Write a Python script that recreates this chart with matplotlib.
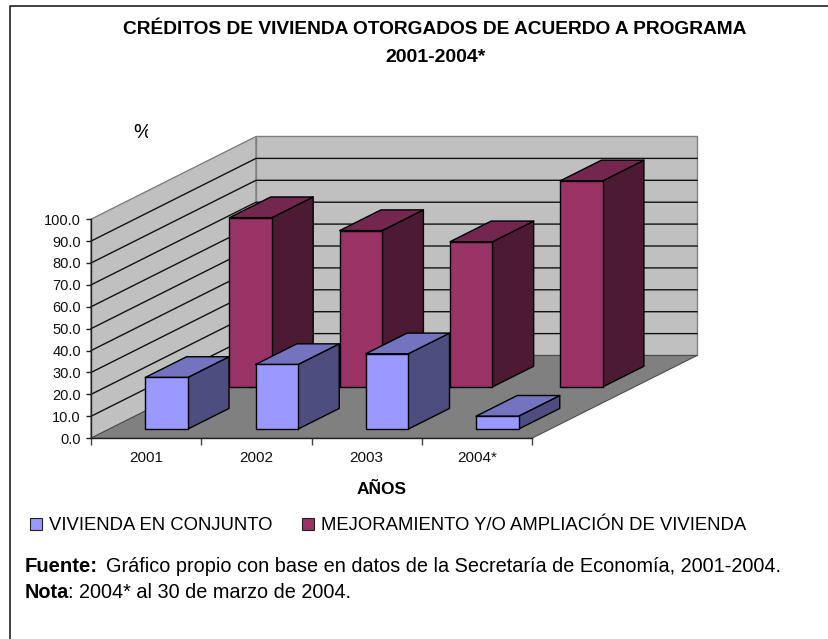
import matplotlib
matplotlib.use("Agg")
import matplotlib.pyplot as plt
from matplotlib.patches import Polygon, Rectangle
from matplotlib.lines import Line2D

plt.rcParams['font.family'] = ['Liberation Sans', 'DejaVu Sans']

years = ['2001', '2002', '2003', '2004*']
vivienda = [23.6, 29.5, 34.4, 5.9]
mejoramiento = [77.3, 71.4, 66.3, 94.1]
y_ticks = [0, 10, 20, 30, 40, 50, 60, 70, 80, 90, 100]
series_names = ['VIVIENDA EN CONJUNTO', 'MEJORAMIENTO Y/O AMPLIACIÓN DE VIVIENDA']

W, H = 829, 639
fig = plt.figure(figsize=(W / 100, H / 100), dpi=100)
fx = lambda p: p / W
fy = lambda p: 1 - p / H

# plot rectangle of the front plane
L, R, T, B = 91, 532, 219.2, 438.2
ax = fig.add_axes([fx(L), fy(B), (R - L) / W, (B - T) / H])
ax.set_xlim(0, 4)
ax.set_ylim(0, 100)
ax.patch.set_visible(False)

# oblique depth projection: depth 1 = whole floor depth
DX = 165 / ((R - L) / 4)
DY = 82.7 / ((B - T) / 100)
P = lambda c, v, d: (c + DX * d, v + DY * d)

def poly(pts, fc, ec='black', lw=1.0, z=1):
    ax.add_patch(Polygon([P(*p) for p in pts], closed=True, facecolor=fc,
                         edgecolor=ec, linewidth=lw, clip_on=False, zorder=z,
                         joinstyle='round'))

# walls and floor
poly([(0, 0, 0), (0, 100, 0), (0, 100, 1), (0, 0, 1)], '#C0C0C0', '#808080', 1.0, 1)
poly([(0, 0, 1), (0, 100, 1), (4, 100, 1), (4, 0, 1)], '#C0C0C0', '#808080', 1.0, 1)
for t in y_ticks[1:-1]:
    ax.plot(*zip(P(0, t, 0), P(0, t, 1), P(4, t, 1)), color='#111111', lw=1.0,
            clip_on=False, zorder=1.5)
poly([(0, 0, 0), (4, 0, 0), (4, 0, 1), (0, 0, 1)], '#808080', '#4d4d4d', 0.8, 2)

# bars
BAR_OFF, BAR_W, BAR_D = 0.328, 0.385, 0.25

def bar3d(c, v, d0, front, top, side, z):
    x0, x1 = c + BAR_OFF, c + BAR_OFF + BAR_W
    d1 = d0 + BAR_D
    poly([(x1, 0, d0), (x1, 0, d1), (x1, v, d1), (x1, v, d0)], side, z=z)
    poly([(x0, v, d0), (x1, v, d0), (x1, v, d1), (x0, v, d1)], top, z=z)
    poly([(x0, 0, d0), (x1, 0, d0), (x1, v, d0), (x0, v, d0)], front, z=z)

for i, v in enumerate(mejoramiento):
    bar3d(i, v, 0.62, '#993366', '#73274F', '#4C1A33', 3 + i * 0.1)
for i, v in enumerate(vivienda):
    bar3d(i, v, 0.11, '#9999FF', '#7373BF', '#4D4D80', 4 + i * 0.1)

# axes
for s in ('top', 'right'):
    ax.spines[s].set_visible(False)
for s in ('left', 'bottom'):
    ax.spines[s].set_linewidth(1.0)
    ax.spines[s].set_color('#222222')
    ax.spines[s].set_zorder(6)
ax.set_yticks(y_ticks)
ax.set_yticklabels([f'{t:.1f}' for t in y_ticks], fontsize=10.5, color='#111111')
ax.tick_params(axis='y', length=3.8, width=1, pad=3.5, color='#222222')
ax.set_xticks(range(5))
ax.set_xticklabels([])
ax.set_xticks([i + 0.5 for i in range(4)], minor=True)
ax.set_xticklabels(years, minor=True, fontsize=11, color='#111111')
ax.tick_params(axis='x', which='major', length=5, width=1, color='#444444')
ax.tick_params(axis='x', which='minor', length=0, pad=9)

# texts
fig.text(fx(434.5), fy(30), 'CRÉDITOS DE VIVIENDA OTORGADOS DE ACUERDO A PROGRAMA',
         ha='center', va='center', fontsize=13.75, fontweight='bold')
fig.text(fx(435.5), fy(58), '2001-2004*', ha='center', va='center',
         fontsize=14, fontweight='bold')
pct = fig.text(fx(133), fy(133), '%', ha='left', va='center', fontsize=14.5)
pct.set_clip_path(Rectangle((133, H - 150), 14.5, 40, transform=None))
fig.text(fx(382), fy(489.5), 'AÑOS', ha='center', va='center', fontsize=12.5,
         fontweight='bold')

# legend
handles = [Rectangle((0, 0), 1, 1, facecolor='#9999FF', edgecolor='#222222', lw=0.8),
           Rectangle((0, 0), 1, 1, facecolor='#993366', edgecolor='#222222', lw=0.8)]
fig.legend(handles, series_names, loc='center left',
           bbox_to_anchor=(fx(30), fy(526)), ncol=2, frameon=False, fontsize=13.3,
           handlelength=0.63, handleheight=0.63, handletextpad=0.38,
           columnspacing=1.62, borderpad=0, borderaxespad=0)

# notes
fig.text(fx(25), fy(571.5), 'Fuente:', ha='left', va='baseline', fontsize=14.6,
         fontweight='bold')
fig.text(fx(106), fy(571.5), 'Gráfico propio con base en datos de la Secretaría de Economía, 2001-2004.',
         ha='left', va='baseline', fontsize=14.33)
fig.text(fx(25), fy(598), 'Nota', ha='left', va='baseline', fontsize=14.33, fontweight='bold')
fig.text(fx(68.5), fy(598), ': 2004* al 30 de marzo de 2004.', ha='left', va='baseline', fontsize=14.33)

# frame (top and left only)
fig.add_artist(Line2D([fx(10), fx(10), 1], [0, fy(5.5), fy(5.5)], color='#222222', lw=1.2))

fig.savefig('out.png', dpi=100)
